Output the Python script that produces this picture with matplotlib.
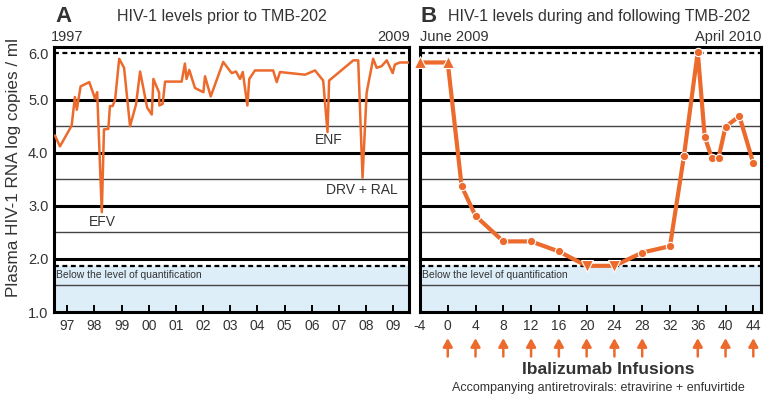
import matplotlib
matplotlib.use("Agg")
import matplotlib.pyplot as plt

plt.rcParams["font.family"] = ["Liberation Sans", "DejaVu Sans"]

ORANGE = "#EC6A2C"
BLUE = "#DDEEF9"
TEXT = "#333333"

# Panel A: HIV-1 levels before TMB-202 (decimal year, log10 copies/ml)
a_years = [1996.55, 1996.73, 1997.16, 1997.28, 1997.35, 1997.49, 1997.81, 1998.02,
           1998.10, 1998.27, 1998.35, 1998.51, 1998.57, 1998.67, 1998.76, 1998.91,
           1999.09, 1999.31, 1999.53, 1999.68, 1999.94, 2000.11, 2000.17, 2000.38,
           2000.39, 2000.51, 2000.60, 2001.21, 2001.33, 2001.39, 2001.49, 2001.70,
           2002.01, 2002.07, 2002.28, 2002.74, 2003.05, 2003.21, 2003.36, 2003.46,
           2003.63, 2003.70, 2003.91, 2004.58, 2004.71, 2004.83, 2005.75, 2006.12,
           2006.42, 2006.58, 2006.64, 2007.53, 2007.71, 2007.87, 2008.02, 2008.26,
           2008.39, 2008.57, 2008.76, 2008.98, 2009.06, 2009.24, 2009.54]
a_log = [4.32, 4.12, 4.51, 5.05, 4.81, 5.25, 5.33, 5.02,
         5.14, 2.88, 4.44, 4.45, 4.88, 4.88, 5.00, 5.77,
         5.60, 4.50, 4.91, 5.53, 4.85, 4.72, 5.39, 5.13,
         4.89, 4.92, 5.34, 5.34, 5.68, 5.39, 5.56, 5.22,
         5.14, 5.44, 5.06, 5.71, 5.50, 5.53, 5.39, 5.52,
         4.89, 5.39, 5.55, 5.55, 5.33, 5.52, 5.47, 5.55,
         5.36, 4.39, 5.36, 5.74, 5.74, 3.53, 5.13, 5.77,
         5.60, 5.63, 5.74, 5.50, 5.66, 5.70, 5.70]
a_tick_years = list(range(1997, 2010))
a_tick_labels = ["97", "98", "99", "00", "01", "02", "03", "04", "05", "06", "07", "08", "09"]
a_notes = [("EFV", 1998.30, 2.69), ("ENF", 2006.61, 4.24), ("DRV + RAL", 2007.83, 3.30)]

# Panel B: HIV-1 levels during and after TMB-202 (week, log10 copies/ml)
b_weeks = [-4, 0, 2, 4, 8, 12, 16, 20, 24, 28, 32, 34, 36, 37, 38, 39, 40, 42, 44]
b_log = [5.70, 5.70, 3.37, 2.81, 2.33, 2.33, 2.14, 1.87, 1.87, 2.12, 2.24, 3.93,
         5.90, 4.30, 3.91, 3.91, 4.49, 4.69, 3.80]
b_marker = ["^", "^", "o", "o", "o", "o", "o", "v", "v", "o", "o", "o",
            "o", "o", "o", "o", "o", "o", "o"]
b_ticks = [-4, 0, 4, 8, 12, 16, 20, 24, 28, 32, 36, 40, 44]
infusion_weeks = [0, 4, 8, 12, 16, 20, 24, 28, 36, 40, 44]

# limits of quantification
LLQ = 1.875
ULQ = 5.875


def style_panel(ax):
    ax.set_ylim(1.0, 6.0)
    ax.axhspan(1.0, LLQ, color=BLUE, zorder=0)
    for v in [2, 3, 4, 5]:
        ax.axhline(v, color="black", lw=2.2, zorder=1)
    for v in [1.5, 2.5, 3.5, 4.5]:
        ax.axhline(v, color="#444444", lw=1.0, zorder=1)
    for v in [LLQ, ULQ]:
        ax.axhline(v, color="black", lw=1.6, ls=(0, (2.2, 1.6)), zorder=1)
    for s in ax.spines.values():
        s.set_linewidth(2.2)
    ax.tick_params(axis="x", direction="in", length=5, width=1.4, pad=5,
                   labelsize=10, labelcolor=TEXT)
    ax.tick_params(axis="y", length=0, pad=4, labelsize=10.5, labelcolor=TEXT)
    ax.text(0.005, (1.69 - 1.0) / 5.0, "Below the level of quantification",
            transform=ax.transAxes, fontsize=7.5, color=TEXT, va="center")


fig = plt.figure(figsize=(7.78, 4.01), dpi=100)
ax_a = fig.add_axes([0.0694, 0.2219, 0.4563, 0.662])
ax_b = fig.add_axes([0.5398, 0.2219, 0.4383, 0.662])

# ---- panel A
style_panel(ax_a)
ax_a.set_xlim(1996.51, 2009.58)
ax_a.plot(a_years, a_log, color=ORANGE, lw=1.8, zorder=3)
ax_a.set_xticks(a_tick_years)
ax_a.set_xticklabels(a_tick_labels)
ax_a.set_yticks([1, 2, 3, 4, 5, ULQ])
ax_a.set_yticklabels(["1.0", "2.0", "3.0", "4.0", "5.0", "6.0"])
ax_a.set_ylabel("Plasma HIV-1 RNA log copies / ml", fontsize=12.3, color=TEXT)
ax_a.yaxis.set_label_coords(-0.093, 0.545)
for label, x, y in a_notes:
    ax_a.text(x, y, label, ha="center", va="center", fontsize=10, color=TEXT)
ax_a.text(1997, 6.04, "1997", ha="center", va="bottom", fontsize=10.5, color=TEXT)
ax_a.text(2009, 6.04, "2009", ha="center", va="bottom", fontsize=10.5, color=TEXT)

# ---- panel B
style_panel(ax_b)
ax_b.set_xlim(-4, 45.1)
ax_b.plot(b_weeks, b_log, color=ORANGE, lw=3, zorder=3, clip_on=False)
for m in ["o", "^", "v"]:
    xs = [w for w, mk in zip(b_weeks, b_marker) if mk == m]
    ys = [v for v, mk in zip(b_log, b_marker) if mk == m]
    ax_b.plot(xs, ys, ls="none", marker=m, ms=6 if m == "o" else 8, color=ORANGE,
              mec="white", mew=0.8, zorder=4, clip_on=False)
ax_b.set_xticks(b_ticks)
ax_b.set_xticklabels([str(t) for t in b_ticks])
ax_b.set_yticks([])
ax_b.text(0.0, 6.04, "June 2009", transform=ax_b.get_yaxis_transform(),
          ha="left", va="bottom", fontsize=10.5, color=TEXT)
ax_b.text(1.0, 6.04, "April 2010", transform=ax_b.get_yaxis_transform(),
          ha="right", va="bottom", fontsize=10.5, color=TEXT)

for w in infusion_weeks:
    ax_b.annotate("", xy=(w, -0.088), xytext=(w, -0.178),
                  xycoords=ax_b.get_xaxis_transform(), textcoords=ax_b.get_xaxis_transform(),
                  arrowprops=dict(arrowstyle="-|>,head_length=0.5,head_width=0.28",
                                  color=ORANGE, lw=1.8))

fig.text(608 / 778, 1 - 370 / 401, "Ibalizumab Infusions", ha="center", va="center",
         fontsize=12.5, fontweight="bold", color=TEXT)
fig.text(598 / 778, 1 - 388 / 401, "Accompanying antiretrovirals: etravirine + enfuvirtide",
         ha="center", va="center", fontsize=9, color=TEXT)

# panel titles
fig.text(55 / 778, 1 - 16 / 401, "A", ha="left", va="center", fontsize=16,
         fontweight="bold", color=TEXT)
fig.text(222 / 778, 1 - 16 / 401, "HIV-1 levels prior to TMB-202", ha="center",
         va="center", fontsize=11.5, color=TEXT)
fig.text(420 / 778, 1 - 16 / 401, "B", ha="left", va="center", fontsize=16,
         fontweight="bold", color=TEXT)
fig.text(448 / 778, 1 - 16 / 401, "HIV-1 levels during and following TMB-202",
         ha="left", va="center", fontsize=11.5, color=TEXT)

fig.savefig("out.png", dpi=100)
